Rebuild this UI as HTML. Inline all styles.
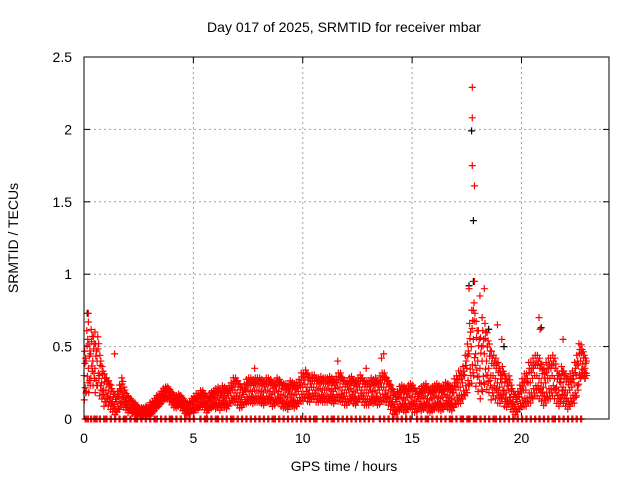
<!DOCTYPE html>
<html><head><meta charset="utf-8"><style>
body{margin:0;background:#fff;}
svg{display:block;font-family:"Liberation Sans",sans-serif;}
</style></head><body>
<svg id="chart" width="640" height="480" viewBox="0 0 640 480">
<text x="344" y="32" font-size="14" text-anchor="middle" fill="#000">Day 017 of 2025, SRMTID for receiver mbar</text>
<text x="344" y="471" font-size="14" text-anchor="middle" fill="#000">GPS time / hours</text>
<text transform="translate(18,238) rotate(-90)" font-size="14" text-anchor="middle" fill="#000">SRMTID / TECUs</text>
<g id="grid"></g>
<g id="ticks"></g>
<g id="marks"></g>
<rect x="84" y="57" width="525" height="362" fill="none" stroke="#000" stroke-width="1"/>
</svg>
<script>
const xTicks=[0,5,10,15,20];
const yTicks=[0,0.5,1,1.5,2,2.5];
const yTickLabels=["0","0.5","1","1.5","2","2.5"];
const center=[
0.3,0.4,0.35,0.45,0.4,0.35,0.4,0.3,0.25,0.2,
0.2,0.18,0.15,0.12,0.1,0.12,0.15,0.2,0.15,0.12,
0.1,0.1,0.08,0.07,0.06,0.05,0.05,0.05,0.06,0.05,
0.07,0.08,0.1,0.12,0.13,0.15,0.17,0.18,0.18,0.16,
0.14,0.12,0.12,0.13,0.12,0.1,0.08,0.07,0.08,0.1,
0.1,0.12,0.12,0.14,0.14,0.12,0.1,0.12,0.13,0.14,
0.14,0.15,0.13,0.16,0.15,0.14,0.16,0.18,0.2,0.2,
0.18,0.16,0.15,0.17,0.19,0.2,0.2,0.19,0.2,0.2,
0.2,0.19,0.18,0.2,0.2,0.19,0.17,0.18,0.2,0.19,
0.17,0.16,0.16,0.15,0.18,0.17,0.16,0.17,0.19,0.22,
0.22,0.24,0.22,0.2,0.22,0.22,0.2,0.2,0.21,0.2,
0.2,0.2,0.21,0.2,0.19,0.21,0.22,0.22,0.2,0.18,
0.18,0.2,0.21,0.19,0.18,0.2,0.22,0.2,0.18,0.18,
0.18,0.2,0.19,0.2,0.18,0.2,0.22,0.22,0.2,0.18,
0.15,0.12,0.1,0.12,0.14,0.15,0.14,0.13,0.15,0.16,
0.15,0.13,0.12,0.14,0.14,0.15,0.16,0.14,0.13,0.14,
0.15,0.16,0.15,0.14,0.15,0.17,0.16,0.15,0.14,0.18,
0.2,0.22,0.22,0.25,0.3,0.35,0.45,0.5,0.55,0.45,
0.4,0.35,0.4,0.45,0.4,0.35,0.3,0.3,0.28,0.25,
0.22,0.25,0.2,0.18,0.2,0.15,0.12,0.1,0.12,0.15,
0.18,0.2,0.2,0.25,0.25,0.28,0.3,0.3,0.28,0.25,
0.22,0.25,0.28,0.28,0.3,0.28,0.22,0.2,0.25,0.22,
0.2,0.18,0.2,0.22,0.25,0.3,0.38,0.4,0.38,0.35];
const spread=[
0.12,0.15,0.12,0.12,0.12,0.12,0.12,0.1,0.08,0.08,
0.06,0.06,0.06,0.05,0.05,0.05,0.06,0.06,0.05,0.04,
0.04,0.03,0.03,0.03,0.02,0.02,0.02,0.02,0.02,0.02,
0.03,0.03,0.03,0.03,0.03,0.03,0.03,0.03,0.03,0.03,
0.03,0.03,0.03,0.03,0.03,0.03,0.03,0.03,0.03,0.03,
0.04,0.04,0.04,0.04,0.04,0.04,0.04,0.04,0.04,0.04,
0.05,0.05,0.05,0.05,0.05,0.05,0.05,0.05,0.06,0.06,
0.06,0.06,0.05,0.05,0.06,0.06,0.06,0.06,0.06,0.06,
0.06,0.06,0.06,0.06,0.06,0.06,0.06,0.06,0.06,0.06,
0.06,0.06,0.06,0.06,0.06,0.06,0.06,0.06,0.06,0.07,
0.07,0.07,0.07,0.06,0.06,0.06,0.06,0.06,0.06,0.06,
0.06,0.06,0.06,0.06,0.06,0.06,0.07,0.07,0.06,0.06,
0.06,0.06,0.06,0.06,0.06,0.06,0.06,0.06,0.06,0.06,
0.06,0.06,0.06,0.06,0.06,0.07,0.07,0.07,0.06,0.06,
0.06,0.06,0.05,0.05,0.06,0.06,0.06,0.06,0.06,0.06,
0.06,0.06,0.05,0.05,0.06,0.06,0.06,0.06,0.06,0.06,
0.06,0.06,0.06,0.06,0.06,0.06,0.06,0.06,0.06,0.07,
0.07,0.08,0.08,0.08,0.1,0.12,0.15,0.18,0.18,0.16,
0.15,0.15,0.15,0.15,0.14,0.12,0.12,0.1,0.1,0.1,
0.08,0.08,0.08,0.07,0.07,0.06,0.05,0.05,0.05,0.06,
0.07,0.08,0.08,0.1,0.1,0.1,0.1,0.1,0.1,0.09,
0.09,0.1,0.1,0.1,0.1,0.1,0.08,0.08,0.08,0.08,
0.08,0.08,0.08,0.08,0.1,0.1,0.1,0.08,0.06,0.05];
const outlierX=[17.75,17.75,17.75,17.85,17.6,17.85,18.3,18.1,20.8,20.85,21.9,0.2,0.2,0.5,1.4,13.6,11.6,17.8,18.2,18.9,19.1,7.8,12.9,13.7];
const outlierY=[2.29,2.08,1.75,1.61,0.9,0.95,0.9,0.85,0.7,0.62,0.55,0.73,0.67,0.6,0.45,0.42,0.4,0.75,0.7,0.65,0.55,0.35,0.35,0.45];
const blackX=[17.72,17.8,17.6,17.8,0.15,18.5,19.2,20.9,22.9];
const blackY=[1.99,1.37,0.92,0.95,0.73,0.62,0.5,0.63,0.28];
const zeroTimes=[0.05,0.15,0.3,0.45,0.55,0.7,0.9,1.0,1.2,1.4,1.6,1.8,1.9,2.1,2.3,2.4,2.6,2.8,3.0,3.2,3.3,3.5,3.7,3.9,4.0,4.2,4.4,4.6,4.8,5.0,5.3,5.5,5.6,5.8,6.0,6.1,6.3,6.5,6.7,6.8,7.0,7.2,7.4,7.6,7.8,8.0,8.2,8.4,8.6,8.7,8.9,9.1,9.3,9.5,9.7,9.9,10.1,10.3,10.5,10.6,10.9,11.1,11.3,11.4,11.6,11.8,12.0,12.2,12.4,12.6,12.8,13.0,13.2,13.5,13.7,13.9,14.1,14.3,14.5,14.7,14.9,15.2,15.4,15.6,15.7,15.9,16.1,16.3,16.5,16.7,16.8,17.0,17.2,17.3,17.5,17.6,17.8,17.9,18.1,18.3,18.5,18.7,18.8,19.0,19.2,19.4,19.6,19.8,20.0,20.2,20.4,20.6,20.8,21.0,21.2,21.4,21.5,21.7,21.9,22.1,22.3,22.5,22.7];

const X0=84,X1=609,Y0=419,Y1=57,XMAX=24,YMAX=2.5;
const sx=v=>X0+v/XMAX*(X1-X0);
const sy=v=>Y0-v/YMAX*(Y0-Y1);
const NS="http://www.w3.org/2000/svg";
const grid=document.getElementById('grid'),ticks=document.getElementById('ticks'),marks=document.getElementById('marks');
function mk(tag,attrs,parent){const e=document.createElementNS(NS,tag);for(const k in attrs)e.setAttribute(k,attrs[k]);parent.appendChild(e);return e;}
xTicks.forEach(t=>{
  const x=sx(t);
  if(t>0){const g=mk('line',{x1:x,x2:x,y1:Y0,y2:Y1,stroke:'#a0a0a0','stroke-dasharray':'2,3'},grid);
  
  }
  const l=mk('line',{x1:x,x2:x,y1:Y0,y2:Y0-6,stroke:'#000'},ticks);
  
  
  const l2=mk('line',{x1:x,x2:x,y1:Y1,y2:Y1+6,stroke:'#000'},ticks);
  
  
  const tx=mk('text',{x:x,y:Y0+24,'font-size':14,'text-anchor':'middle',fill:'#000'},ticks);
  tx.textContent=String(t);
  
  
});
yTicks.forEach((t,i)=>{
  const y=sy(t);
  if(t>0&&t<YMAX){const g=mk('line',{x1:X0,x2:X1,y1:y,y2:y,stroke:'#a0a0a0','stroke-dasharray':'2,3'},grid);
  
  }
  const l=mk('line',{x1:X0,x2:X0+6,y1:y,y2:y,stroke:'#000'},ticks);
  
  
  const l2=mk('line',{x1:X1,x2:X1-6,y1:y,y2:y,stroke:'#000'},ticks);
  
  
  const tx=mk('text',{x:X0-12,y:y+5,'font-size':14,'text-anchor':'end',fill:'#000'},ticks);
  tx.textContent=yTickLabels[i];
  
  
});
function plus(h,v,color,name){
  const x=sx(h),y=sy(v);
  const p=mk('path',{d:`M${x-3.5},${y}H${x+3.5}M${x},${y-3.5}V${y+3.5}`,stroke:color,'stroke-width':1.2,fill:'none'},marks);
  
  
}
blackX.forEach((h,i)=>plus(h,blackY[i],'#000','point-black'));
center.forEach((v,i)=>{
  const s=spread[i];
  const offs=[0,-1.4,1.4,0.7,-0.7,1.0,-1.0];
  offs.forEach((o,j)=>{
    const h=i*0.1+j*0.014;
    plus(h,Math.max(0.02,v+o*s),'#f00','point');
  });
});
outlierX.forEach((h,i)=>plus(h,outlierY[i],'#f00','point-outlier'));
zeroTimes.forEach(h=>plus(h,0,'#f00','point-zero'));
zeroTimes.forEach(h=>plus(h+0.05,0,'#f00','point-zero'));
</script>
</body></html>
